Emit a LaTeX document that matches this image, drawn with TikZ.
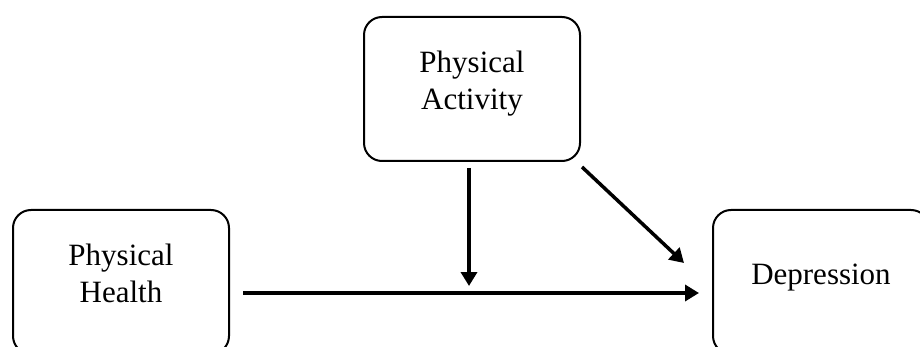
\documentclass[tikz,border=0pt]{standalone}
\usepackage{fontspec}
\setmainfont{Liberation Serif}
\usetikzlibrary{arrows.meta,calc}

\begin{document}
\begin{tikzpicture}[line cap=round,line join=round,>={Triangle[width=16pt,length=14pt]},x=1pt,y=-1pt,
    box/.style={draw, line width=2pt, rounded corners=18pt, minimum width=216pt, minimum height=144pt, align=center, font=\fontsize{31}{37}\selectfont},
    twoline/.style={text height=46.5pt, text depth=5pt},
    oneline/.style={text height=21pt, text depth=16.5pt},
    arr/.style={->, line width=3.5pt, line cap=butt}]
                        \useasboundingbox (0,0) rectangle (920,347);
                        \clip (0,0) rectangle (920,347);

                        \node[box, twoline] (act) at (472,89) {Physical\\Activity};
                        \node[box, twoline] (health) at (121,282) {Physical\\Health};
                        \node[box, oneline] (dep) at (821,282) {Depression};

                        \draw [arr] ($(health.east)+(13,11)$) -- ($(dep.west)+(-13,11)$);
                        \draw [arr] ($(act.south)+(-3,6)$) -- ($(act.south |- health.east)+(-3,4)$);
                        \draw [arr] ($(act.south east)+(1,5)$) -- ($(dep.west)+(-28,-19)$);
                    \end{tikzpicture}
\end{document}
